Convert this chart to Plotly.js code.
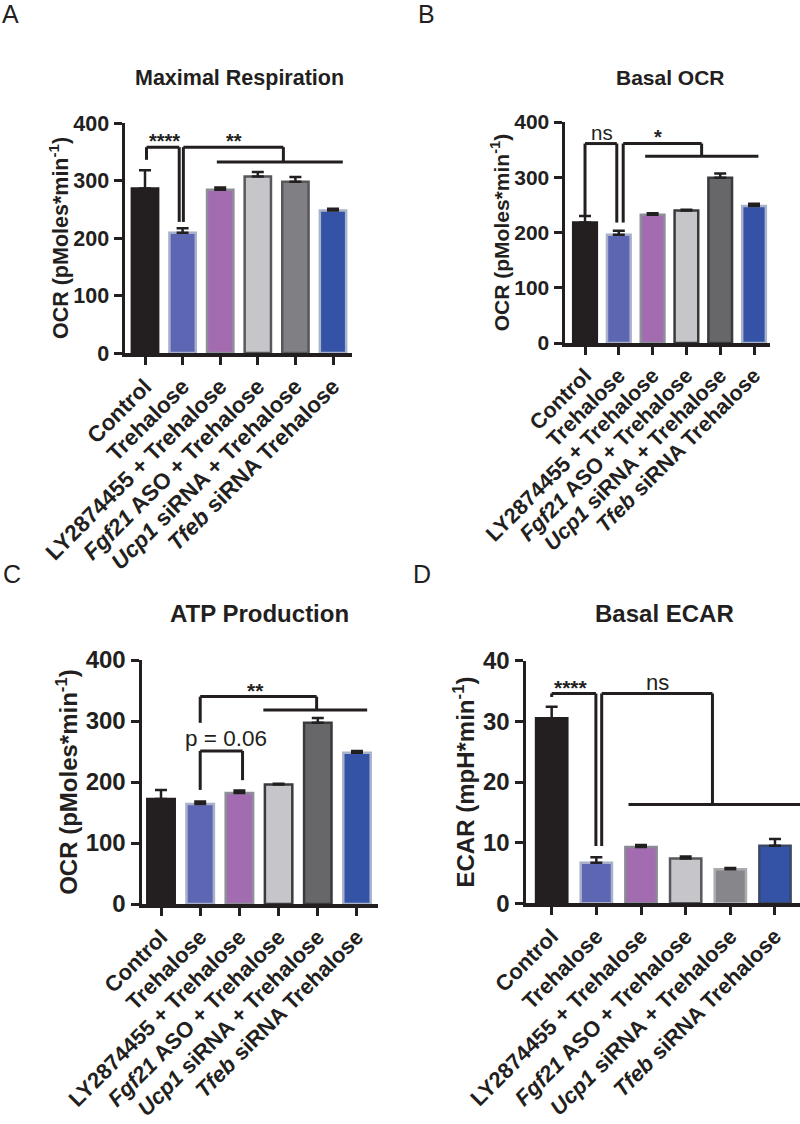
<!DOCTYPE html>
<html><head><meta charset="utf-8">
<script src="https://cdn.plot.ly/plotly-3.0.1.min.js"></script>
<style>html,body{margin:0;padding:0;background:#fff}</style>
</head><body><div id="chart" style="width:800px;height:1124px"></div>
<script>
// ---------- data ----------
const categories = ['Control', 'Trehalose', 'LY2874455 + Trehalose', 'Fgf21 ASO + Trehalose', 'Ucp1 siRNA + Trehalose', 'Tfeb siRNA Trehalose'];
const tickLabels = ['Control', 'Trehalose', 'LY2874455 + Trehalose', '<i>Fgf21</i> ASO + Trehalose', '<i>Ucp1</i> siRNA + Trehalose', '<i>Tfeb</i> siRNA Trehalose'];

const maxRespiration    = [286, 209, 284, 307, 298, 248];
const maxRespirationErr = [32, 8, 4, 8, 8, 3];

const basalOCR    = [218, 196, 232, 240, 299, 248];
const basalOCRErr = [12, 7, 3, 1, 8, 4];

const atpProduction    = [172, 164, 182, 196, 297, 248];
const atpProductionErr = [15, 4, 4, 1, 8, 3];

const basalECAR    = [30.5, 6.7, 9.3, 7.4, 5.6, 9.5];
const basalECARErr = [1.9, 0.9, 0.3, 0.3, 0.2, 1.1];

// significance brackets: polylines in (category index, value)
const bracketsA = [
  [[0.04, 336], [0.04, 358], [0.91, 358], [0.91, 228]],
  [[1.02, 228], [1.02, 358], [3.68, 358], [3.68, 332]],
  [[1.91, 332], [5.26, 332]]
];
const sigLabelsA = [{text: '****', x: 0.53, y: 369, size: 20}, {text: '**', x: 2.37, y: 369, size: 20}];

const bracketsB = [
  [[0, 229], [0, 361], [0.94, 361], [0.94, 218]],
  [[1.13, 218], [1.13, 361], [3.45, 361], [3.45, 338]],
  [[1.78, 338], [5.13, 338]]
];
const sigLabelsB = [{text: 'ns', x: 0.49, y: 381, size: 20.5}, {text: '*', x: 2.15, y: 373, size: 20}];

const bracketsC = [
  [[1, 297], [1, 340], [3.97, 340], [3.97, 318]],
  [[2.61, 318], [5.26, 318]],
  [[1, 187], [1, 251], [2.08, 251], [2.08, 203]]
];
const sigLabelsC = [{text: '**', x: 2.4, y: 350, size: 21}, {text: 'p = 0.06', x: 1.66, y: 272, size: 22.5}];

const bracketsD = [
  [[0, 34.0], [0, 34.6], [0.99, 34.6], [0.99, 9.45]],
  [[1.12, 9.45], [1.12, 34.6], [3.6, 34.6], [3.6, 16.3]],
  [[1.72, 16.3], [5.56, 16.3]]
];
const sigLabelsD = [{text: '****', x: 0.43, y: 35.6, size: 21}, {text: 'ns', x: 2.37, y: 36.4, size: 22}];

// ---------- styles ----------
const FONT = 'Liberation Sans, Arial, Helvetica, sans-serif';
const INK = '#231F20';
const W = 800, H = 1124;

const panels = [
  {letter: 'A', title: 'Maximal Respiration', values: maxRespiration, errs: maxRespirationErr,
   ytitle: 'OCR (pMoles*min<sup>-1</sup>)', yrange: [0, 400], dtick: 100,
   xpx: [125, 352], ypx: [353, 123], xrange: [-0.532, 5.505], fs: 21.5, xfs: 22.5, standoff: 0,
   titlePos: [239, 78], letterPos: [10, 14], brackets: bracketsA, sig: sigLabelsA,
   fills: ['#231F20', '#5C66B2', '#A36BB0', '#C6C6CA', '#7F7F84', '#3553A6'],
   lines: ['#231F20', '#A8B0CA', '#8F8F99', '#58585C', '#58585C', '#A9B3CC']},
  {letter: 'B', title: 'Basal OCR', values: basalOCR, errs: basalOCRErr,
   ytitle: 'OCR (pMoles*min<sup>-1</sup>)', yrange: [0, 400], dtick: 100,
   xpx: [565, 770], ypx: [343, 122], xrange: [-0.592, 5.473], fs: 21, xfs: 21.5, standoff: 0,
   titlePos: [670, 78], letterPos: [426, 14], brackets: bracketsB, sig: sigLabelsB,
   fills: ['#231F20', '#5C66B2', '#A36BB0', '#C6C6CA', '#67676A', '#3553A6'],
   lines: ['#231F20', '#A8B0CA', '#8F8F99', '#3A3A3C', '#3A3A3C', '#A9B3CC']},
  {letter: 'C', title: 'ATP Production', values: atpProduction, errs: atpProductionErr,
   ytitle: 'OCR (pMoles*min<sup>-1</sup>)', yrange: [0, 400], dtick: 100,
   xpx: [142, 378], ypx: [904, 660], xrange: [-0.485, 5.536], fs: 24, xfs: 22, standoff: 2,
   titlePos: [259, 613], letterPos: [12, 574], brackets: bracketsC, sig: sigLabelsC,
   fills: ['#231F20', '#5C66B2', '#A36BB0', '#C6C6CA', '#67676A', '#3553A6'],
   lines: ['#231F20', '#A8B0CA', '#8F8F99', '#3A3A3C', '#3A3A3C', '#A9B3CC']},
  {letter: 'D', title: 'Basal ECAR', values: basalECAR, errs: basalECARErr,
   ytitle: 'ECAR (mpH*min<sup>-1</sup>)', yrange: [0, 40], dtick: 10,
   xpx: [526, 800], ypx: [903.3, 660.7], xrange: [-0.575, 5.56], fs: 24, xfs: 22, standoff: 2,
   titlePos: [664, 613], letterPos: [422, 574], brackets: bracketsD, sig: sigLabelsD,
   fills: ['#231F20', '#5C66B2', '#A36BB0', '#C6C6CA', '#87878B', '#3553A6'],
   lines: ['#231F20', '#A8B0CA', '#8A8A96', '#58585C', '#ABABB0', '#3A4868']}
];

const xIdx = categories.map((c, i) => i);
const traces = [];
const layout = {
  width: W, height: H, margin: {l: 0, r: 0, t: 0, b: 0},
  paper_bgcolor: '#fff', plot_bgcolor: 'rgba(0,0,0,0)',
  showlegend: false, shapes: [], annotations: [],
  font: {family: FONT, color: INK}
};

panels.forEach((p, k) => {
  const sfx = k === 0 ? '' : String(k + 1);
  const xa = 'x' + sfx, ya = 'y' + sfx;
  traces.push({
    type: 'bar', x: xIdx, y: p.values, xaxis: xa, yaxis: ya,
    width: 0.70,
    marker: {color: p.fills, line: {color: p.lines, width: 2.5}},
    error_y: {type: 'data', array: p.errs, arrayminus: p.errs.map(() => 0), symmetric: false,
              color: INK, thickness: 2.5, width: 6},
    hoverinfo: 'skip'
  });
  const axisCommon = {
    showline: true, linecolor: INK, linewidth: 3.5, showgrid: false, zeroline: false,
    ticks: 'outside', ticklen: 8, tickwidth: 3, tickcolor: INK, fixedrange: true
  };
  layout['xaxis' + sfx] = Object.assign({}, axisCommon, {
    domain: [p.xpx[0] / W, p.xpx[1] / W], anchor: ya, range: p.xrange,
    tickmode: 'array', tickvals: xIdx, ticktext: tickLabels, tickangle: -45,
    tickfont: {family: FONT, size: p.xfs, weight: 'bold', color: INK}
  });
  layout['yaxis' + sfx] = Object.assign({}, axisCommon, {
    domain: [1 - p.ypx[0] / H, 1 - p.ypx[1] / H], anchor: xa, range: p.yrange,
    tickmode: 'linear', tick0: 0, dtick: p.dtick,
    tickfont: {family: FONT, size: p.fs, weight: 'bold', color: INK},
    title: {text: p.ytitle, standoff: p.standoff, font: {family: FONT, size: p.fs, weight: 'bold', color: INK}}
  });
  // brackets
  p.brackets.forEach(poly => {
    for (let i = 0; i < poly.length - 1; i++) {
      layout.shapes.push({type: 'line', xref: xa, yref: ya,
        x0: poly[i][0], y0: poly[i][1], x1: poly[i + 1][0], y1: poly[i + 1][1],
        line: {color: INK, width: 3}});
    }
  });
  p.sig.forEach(s => {
    const isStar = s.text.indexOf('*') >= 0;
    layout.annotations.push({xref: xa, yref: ya, x: s.x, y: s.y, text: isStar ? '<b>' + s.text + '</b>' : s.text,
      showarrow: false, xanchor: 'center', yanchor: 'middle', font: {family: FONT, size: s.size, color: INK}});
  });
  // panel title
  layout.annotations.push({xref: 'paper', yref: 'paper', x: p.titlePos[0] / W, y: 1 - p.titlePos[1] / H,
    text: '<b>' + p.title + '</b>', showarrow: false, xanchor: 'center', yanchor: 'middle',
    font: {family: FONT, size: p.fs, color: INK}});
  // panel letter
  layout.annotations.push({xref: 'paper', yref: 'paper', x: p.letterPos[0] / W, y: 1 - p.letterPos[1] / H,
    text: p.letter, showarrow: false, xanchor: 'center', yanchor: 'middle',
    font: {family: FONT, size: 25, color: INK}});
});

Plotly.newPlot('chart', traces, layout, {displayModeBar: false, staticPlot: true});
</script></body></html>
